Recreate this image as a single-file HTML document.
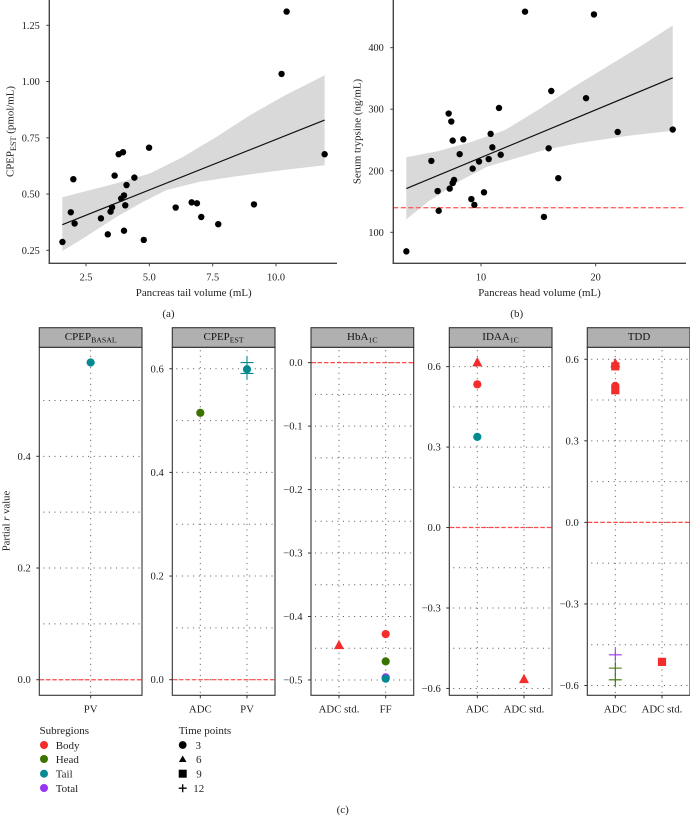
<!DOCTYPE html>
<html lang="en">
<head>
<meta charset="utf-8">
<title>Pancreas volume correlations</title>
<style>
html,body{margin:0;padding:0;background:#fff;width:690px;height:815px;overflow:hidden}
svg{display:block;font-family:"Liberation Serif",serif;filter:blur(0.25px)}
text{fill:#222}
</style>
</head>
<body>
<svg id="figure" xmlns="http://www.w3.org/2000/svg" width="690" height="815" viewBox="0 0 690 815">
  <g id="plot-a"></g>
  <g id="plot-b"></g>
  <g id="plot-c"></g>

  <text x="193.7" y="296" font-size="10.9" text-anchor="middle">Pancreas tail volume (mL)</text>
  <text transform="translate(13.5,131.5) rotate(-90)" font-size="10.9" text-anchor="middle">CPEP<tspan font-size="8.2" dy="2.5">EST</tspan><tspan dy="-2.5"> (pmol/mL)</tspan></text>
  <text x="168.5" y="317" font-size="11" text-anchor="middle">(a)</text>

  <text x="539.5" y="296" font-size="10.9" text-anchor="middle">Pancreas head volume (mL)</text>
  <text transform="translate(360.5,131.5) rotate(-90)" font-size="10.9" text-anchor="middle">Serum trypsine (ng/mL)</text>
  <text x="516.7" y="317" font-size="11" text-anchor="middle">(b)</text>

  <text transform="translate(9.5,521) rotate(-90)" font-size="10.7" text-anchor="middle">Partial <tspan font-style="italic">r</tspan> value</text>
  <text x="342.7" y="813" font-size="11" text-anchor="middle">(c)</text>

  <text x="90.7" y="340" font-size="11" text-anchor="middle" style="fill:#111">CPEP<tspan font-size="7.8" dy="2.5">BASAL</tspan></text>
  <text x="223.6" y="340" font-size="11" text-anchor="middle" style="fill:#111">CPEP<tspan font-size="7.8" dy="2.5">EST</tspan></text>
  <text x="362.3" y="340" font-size="11" text-anchor="middle" style="fill:#111">HbA<tspan font-size="7.8" dy="2.5">1C</tspan></text>
  <text x="500.6" y="340" font-size="11" text-anchor="middle" style="fill:#111">IDAA<tspan font-size="7.8" dy="2.5">1C</tspan></text>
  <text x="639" y="340" font-size="11" text-anchor="middle" style="fill:#111">TDD</text>

  <g font-size="11">
    <text x="39.5" y="734">Subregions</text>
    <circle cx="44" cy="745" r="4" fill="#f32c2c"/>
    <text x="55.7" y="749">Body</text>
    <circle cx="44" cy="759" r="4" fill="#3a7300"/>
    <text x="55.7" y="763">Head</text>
    <circle cx="44" cy="773.7" r="4" fill="#058a92"/>
    <text x="55.7" y="777.7">Tail</text>
    <circle cx="44" cy="788" r="4" fill="#9a34f5"/>
    <text x="55.7" y="792">Total</text>
  </g>
  <g font-size="11">
    <text x="178.7" y="734">Time points</text>
    <circle cx="182.7" cy="745" r="3.9" fill="#000"/>
    <text x="198.2" y="749" text-anchor="middle">3</text>
    <polygon points="182.7,755.5 186.5,762 178.9,762" fill="#000"/>
    <text x="198.8" y="763" text-anchor="middle">6</text>
    <rect x="178.7" y="769.7" width="8" height="8" fill="#000"/>
    <text x="199" y="777.5" text-anchor="middle">9</text>
    <path d="M178.7 788.2H186.7M182.7 784.2V792.2" stroke="#000" stroke-width="1.3" fill="none"/>
    <text x="198.7" y="792" text-anchor="middle">12</text>
  </g>
</svg>
<script>
// ---- Panel (a) data ----
const tailVolume = [1.57,1.9,2.0,2.05,3.09,3.36,3.47,3.53,3.63,3.79,3.96,4.0,3.89,4.0,4.05,4.1,4.41,4.78,4.99,6.04,6.67,6.88,7.05,7.72,9.13,10.22,10.42,11.92];
const cpepEst = [0.287,0.419,0.566,0.369,0.392,0.321,0.422,0.441,0.582,0.677,0.686,0.337,0.48,0.494,0.45,0.54,0.573,0.296,0.706,0.44,0.463,0.459,0.398,0.366,0.454,1.034,1.311,0.677];
const tailFitX = [1.566,11.92];
const tailFitY = [0.364,0.829];
const tailBandUpperX = [1.565,3.71,5.03,6.34,7.66,8.97,10.29,11.92];
const tailBandUpperY = [0.4855,0.548,0.592,0.666,0.755,0.85,0.935,1.028];
const tailBandLowerX = [1.565,2.39,3.71,4.76,5.68,7.0,8.31,10.29,11.92];
const tailBandLowerY = [0.247,0.303,0.399,0.466,0.518,0.555,0.577,0.607,0.628];
const tailXTicks = ['2.5','5.0','7.5','10.0'];
const cpepYTicks = ['0.25','0.50','0.75','1.00','1.25'];

// ---- Panel (b) data ----
const headVolume = [3.49,5.67,6.22,6.31,7.18,7.27,7.41,7.53,7.53,7.65,8.14,8.46,9.16,9.27,9.42,9.83,10.26,10.67,10.84,10.99,11.57,11.72,13.84,15.49,15.9,16.13,16.74,19.16,19.85,21.92,26.72];
const trypsine = [69,216,167,135,293,171,280,249,180,185,227,251,154,203.5,144.5,215,165,219,260,238,302,226,458.5,125,236.5,329.6,188,318,454,263,267];
const headFitX = [3.49,26.72];
const headFitY = [171,351];
const headBandUpperX = [3.49,6.28,9.19,12.09,15,17.9,20.8,23.7,26.72];
const headBandUpperY = [222,232,247,266,299,334,367,400,436];
const headBandLowerX = [3.49,5.4,8.3,10.6,13,15.6,18.5,22.85,26.72];
const headBandLowerY = [121,150,185,207,220,234,245,257,265];
const headXTicks = ['10','20'];
const trypsineYTicks = ['100','200','300','400'];
const trypsineCutoff = [140];

// ---- Panel (c) data ----
const facetCategories = [['PV'],['ADC','PV'],['ADC std.','FF'],['ADC','ADC std.'],['ADC','ADC std.']];
const facetDomains = [[-0.0279,0.5952],[-0.0301,0.6414],[-0.5242,0.0242],[-0.6255,0.6720],[-0.6360,0.6440]];
const facetMajorTicks = [[0,0.2,0.4],[0,0.2,0.4,0.6],[-0.5,-0.4,-0.3,-0.2,-0.1,0],[-0.6,-0.3,0,0.3,0.6],[-0.6,-0.3,0,0.3,0.6]];
const facetMinorTicks = [[0.1,0.3,0.5],[0.1,0.3,0.5],[-0.45,-0.35,-0.25,-0.15,-0.05],[-0.45,-0.15,0.15,0.45],[-0.45,-0.15,0.15,0.45]];
const facetPointCategory = [[0],[0,1,1,1],[0,1,1,1,1],[0,0,0,1],[0,0,0,0,0,0,0,0,1]];
const facetPointValue = [[0.568],[0.515,0.612,0.591,0.599],[-0.4455,-0.4277,-0.4707,-0.496,-0.498],[0.615,0.534,0.338,-0.566],[0.575,0.574,0.584,0.502,0.486,-0.487,-0.536,-0.579,-0.513]];
const facetPointRegion = [['tail'],['head','tail','tail','tail'],['body','body','head','total','tail'],['body','body','tail','body'],['body','body','body','body','body','total','head','head','body']];
const facetPointTime = [[3],[3,12,12,3],[6,3,3,3,3],[6,3,3,6],[3,9,6,3,9,12,12,12,9]];

const NS = 'http://www.w3.org/2000/svg';
const regionColor = {body:'#f32c2c', head:'#3a7300', tail:'#058a92', total:'#9a34f5'};

function mk(tag, attrs, parent) {
  const e = document.createElementNS(NS, tag);
  for (const k in attrs) e.setAttribute(k, attrs[k]);
  parent.appendChild(e);
  return e;
}
function linScale(d0, d1, r0, r1) {
  return v => r0 + (v - d0) / (d1 - d0) * (r1 - r0);
}
function bandPoints(ux, uy, lx, ly, X, Y) {
  const p = [];
  ux.forEach((v, i) => p.push(X(v).toFixed(1) + ',' + Y(uy[i]).toFixed(1)));
  for (let i = lx.length - 1; i >= 0; i--) p.push(X(lx[i]).toFixed(1) + ',' + Y(ly[i]).toFixed(1));
  return p.join(' ');
}

function drawScatter(g, cfg) {
  const X = cfg.X, Y = cfg.Y;
  const band = mk('polygon', {points: bandPoints(cfg.ux, cfg.uy, cfg.lx, cfg.ly, X, Y), fill: '#d9d9d9'}, g);
  
  

  if (cfg.cutoff) {
    const ref = mk('line', {x1: cfg.left, x2: cfg.right, y1: Y(cfg.cutoff[0]), y2: Y(cfg.cutoff[0]), stroke: '#ff6464', 'stroke-width': 1.4, 'stroke-dasharray': '5 2.5'}, g);
    
    
  }

  cfg.xs.forEach((v, i) => {
    const dot = mk('circle', {cx: X(v).toFixed(2), cy: Y(cfg.ys[i]).toFixed(2), r: 3.2, fill: '#000'}, g);
    
    
  });

  const fit = mk('line', {x1: X(cfg.fx[0]), y1: Y(cfg.fy[0]), x2: X(cfg.fx[1]), y2: Y(cfg.fy[1]), stroke: '#111', 'stroke-width': 1.2}, g);
  
  

  const axY = mk('line', {x1: cfg.left, x2: cfg.left, y1: 0, y2: cfg.bottom + 0.7, stroke: '#444', 'stroke-width': 1.4}, g);
  
  
  const axX = mk('line', {x1: cfg.left - 0.7, x2: cfg.right, y1: cfg.bottom, y2: cfg.bottom, stroke: '#444', 'stroke-width': 1.4}, g);
  
  

  cfg.xt.forEach(lbl => {
    const x = X(parseFloat(lbl));
    const t = mk('line', {x1: x, x2: x, y1: cfg.bottom, y2: cfg.bottom + 3, stroke: '#444', 'stroke-width': 1}, g);
    
    
    const s = mk('text', {x: x, y: cfg.bottom + 17, 'font-size': 10.3, 'text-anchor': 'middle'}, g);
    
    
    s.textContent = lbl;
  });
  cfg.yt.forEach(lbl => {
    const y = Y(parseFloat(lbl));
    const t = mk('line', {x1: cfg.left - 3, x2: cfg.left, y1: y, y2: y, stroke: '#444', 'stroke-width': 1}, g);
    
    
    const s = mk('text', {x: cfg.left - 9.5, y: y + 3.5, 'font-size': 10.3, 'text-anchor': 'end'}, g);
    
    
    s.textContent = lbl;
  });
}

drawScatter(document.getElementById('plot-a'), {
  X: linScale(2.5, 10, 86, 276), Y: linScale(0.25, 1.25, 250.3, 25.3),
  left: 49.3, right: 337, bottom: 263.3,
  xs: tailVolume, ys: cpepEst, fx: tailFitX, fy: tailFitY,
  ux: tailBandUpperX, uy: tailBandUpperY, lx: tailBandLowerX, ly: tailBandLowerY,
  xt: tailXTicks, yt: cpepYTicks
});
drawScatter(document.getElementById('plot-b'), {
  X: linScale(10, 20, 481, 595.67), Y: linScale(100, 400, 232.3, 47.67),
  left: 393.3, right: 686, bottom: 263.3,
  xs: headVolume, ys: trypsine, fx: headFitX, fy: headFitY,
  ux: headBandUpperX, uy: headBandUpperY, lx: headBandLowerX, ly: headBandLowerY,
  xt: headXTicks, yt: trypsineYTicks, cutoff: trypsineCutoff
});

// ---- Facets ----
const facetLefts = [39.3, 172.3, 311, 449.3, 587.3];
const facetWidth = 102.7;
const stripTop = 327.7, panelTop = 347.3, panelBottom = 695.3;
const facetG = document.getElementById('plot-c');

function drawMarker(g, time, cx, cy, color) {
  let m;
  if (time === 3) {
    m = mk('circle', {cx: cx, cy: cy, r: 4.1, fill: color}, g);
  } else if (time === 6) {
    m = mk('polygon', {points: [cx, cy - 5.6, cx + 5, cy + 3.8, cx - 5, cy + 3.8].join(' '), fill: color}, g);
  } else if (time === 9) {
    m = mk('rect', {x: cx - 4.1, y: cy - 4.1, width: 8.2, height: 8.2, fill: color}, g);
  } else {
    m = mk('path', {d: 'M' + (cx - 6.5) + ' ' + cy + 'H' + (cx + 6.5) + 'M' + cx + ' ' + (cy - 6.5) + 'V' + (cy + 6.5), stroke: color, 'stroke-width': 1.1, fill: 'none'}, g);
  }
  return m;
}

facetLefts.forEach((left, fi) => {
  const g = mk('g', {}, facetG);
  
  
  const right = left + facetWidth;
  const cats = facetCategories[fi];
  const dom = facetDomains[fi];
  const Y = linScale(dom[0], dom[1], panelBottom, panelTop);
  const X = i => left + (i + 0.6) / (cats.length + 0.2) * facetWidth;

  const grid = {stroke: '#555', 'stroke-width': 1, 'stroke-dasharray': '1 4.6'};
  facetMajorTicks[fi].concat(facetMinorTicks[fi]).forEach(v => {
    const gl = mk('line', Object.assign({x1: left + 4, x2: right - 1, y1: Y(v), y2: Y(v)}, grid), g);
    
    
  });
  cats.forEach((c, i) => {
    const gl = mk('line', Object.assign({x1: X(i), x2: X(i), y1: panelTop + 3, y2: panelBottom - 2}, grid), g);
    
    
  });

  const zero = mk('line', {x1: left, x2: right, y1: Y(0), y2: Y(0), stroke: '#ff4a4a', 'stroke-width': 1.2, 'stroke-dasharray': '4.5 2'}, g);
  
  

  facetPointValue[fi].forEach((v, i) => {
    const m = drawMarker(g, facetPointTime[fi][i], X(facetPointCategory[fi][i]), Y(v), regionColor[facetPointRegion[fi][i]]);
    
    
  });

  const frame = mk('rect', {x: left, y: panelTop, width: facetWidth, height: panelBottom - panelTop, fill: 'none', stroke: '#333', 'stroke-width': 1.1}, g);
  
  

  const strip = mk('rect', {x: left, y: stripTop, width: facetWidth, height: panelTop - stripTop, fill: '#b0b0b0', stroke: '#333', 'stroke-width': 1.1}, g);
  
  

  facetMajorTicks[fi].forEach(v => {
    const t = mk('line', {x1: left - 3, x2: left, y1: Y(v), y2: Y(v), stroke: '#333', 'stroke-width': 1}, g);
    
    
    const s = mk('text', {x: left - 8.5, y: Y(v) + 3.5, 'font-size': 10.6, 'text-anchor': 'end'}, g);
    
    
    s.textContent = (v < 0 ? '\u2212' : '') + Math.abs(v).toFixed(1);
  });
  cats.forEach((c, i) => {
    const t = mk('line', {x1: X(i), x2: X(i), y1: panelBottom, y2: panelBottom + 3, stroke: '#333', 'stroke-width': 1}, g);
    
    
    const s = mk('text', {x: X(i), y: 712.5, 'font-size': 10.8, 'text-anchor': 'middle'}, g);
    
    
    s.textContent = c;
  });
});
</script>
</body>
</html>
